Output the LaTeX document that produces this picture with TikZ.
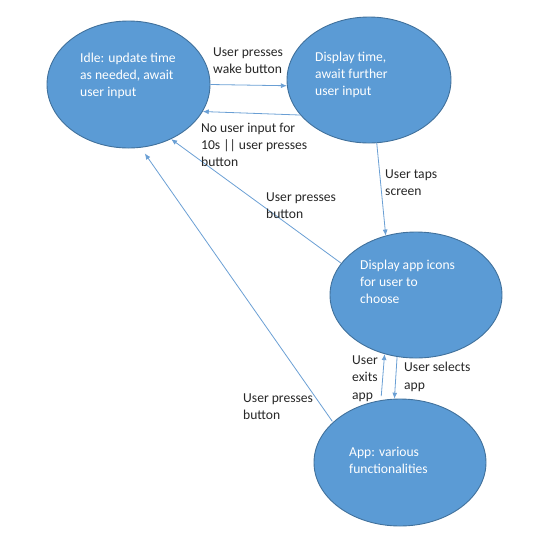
\documentclass[tikz,border=0pt]{standalone}
\usepackage{fontspec}
\setmainfont{Carlito}
\usepackage{xcolor}
\usetikzlibrary{shapes.geometric, arrows.meta}

\definecolor{stfill}{HTML}{5B9BD5}
\definecolor{stline}{HTML}{41719C}
\definecolor{arrcol}{HTML}{6A9FD4}
\definecolor{txtcol}{HTML}{262626}

\begin{document}
\begin{tikzpicture}[x=1pt, y=-1pt,
        state/.style={ellipse, draw=stline, fill=stfill, line width=0.9pt, inner sep=0pt},
        stxt/.style={anchor=west, inner sep=0pt, align=left, text=white,
            font=\fontsize{13.6}{17.3}\selectfont},
        lbl/.style={anchor=west, inner sep=0pt, align=left, text=txtcol,
            font=\fontsize{13.6}{17.3}\selectfont},
        arr/.style={draw=arrcol, line width=0.8pt, -{Latex[length=6pt, width=5pt]}}]
        \useasboundingbox (0, 0) rectangle (550, 558);

        % states
        \node[state, minimum width=163pt, minimum height=127pt] (idle) at (128.5, 84.5) {};
        \node[stxt] (idletxt) at (80, 76) {Idle: update time\\as needed, await\\user input};
        \node[state, minimum width=164pt, minimum height=126pt] (disp) at (369, 80) {};
        \node[stxt] (disptxt) at (315, 75) {Display time,\\await further\\user input};
        \node[state, minimum width=172pt, minimum height=126pt] (icons) at (416, 295) {};
        \node[stxt] (iconstxt) at (360, 282) {Display app icons\\for user to\\choose};
        \node[state, minimum width=172pt, minimum height=127pt] (app) at (400, 462.5) {};
        \node[stxt] (apptxt) at (349, 460.5) {App: various\\functionalities};

        % transitions
        \draw[arr] (idle.0) -- (disp.184);
        \draw[arr] (disp.207) -- (idle.340);
        \draw[arr] (disp.277) -- (icons.117);
        \draw[arr] (icons.157) -- (idle.308);
        \draw[arr, shorten <=1pt, shorten >=7pt] (app.149) -- (idle.281);
        \draw[arr, shorten <=4pt] (app.107) -- (icons.242);
        \draw[arr] (icons.253) -- (app.95);

        % labels
        \node[lbl] (lwake) at (213, 61) {User presses\\wake button};
        \node[lbl] (lidle) at (201, 145) {No user input for\\10s || user presses\\button};
        \node[lbl] (ltaps) at (385, 183) {User taps\\screen};
        \node[lbl] (lpress) at (266, 205.5) {User presses\\button};
        \node[lbl] (lpressapp) at (243, 406.5) {User presses\\button};
        \node[lbl] (lexits) at (352, 378.5) {User\\exits\\app};
        \node[lbl] (lselects) at (404, 377) {User selects\\app};
    \end{tikzpicture}
\end{document}
